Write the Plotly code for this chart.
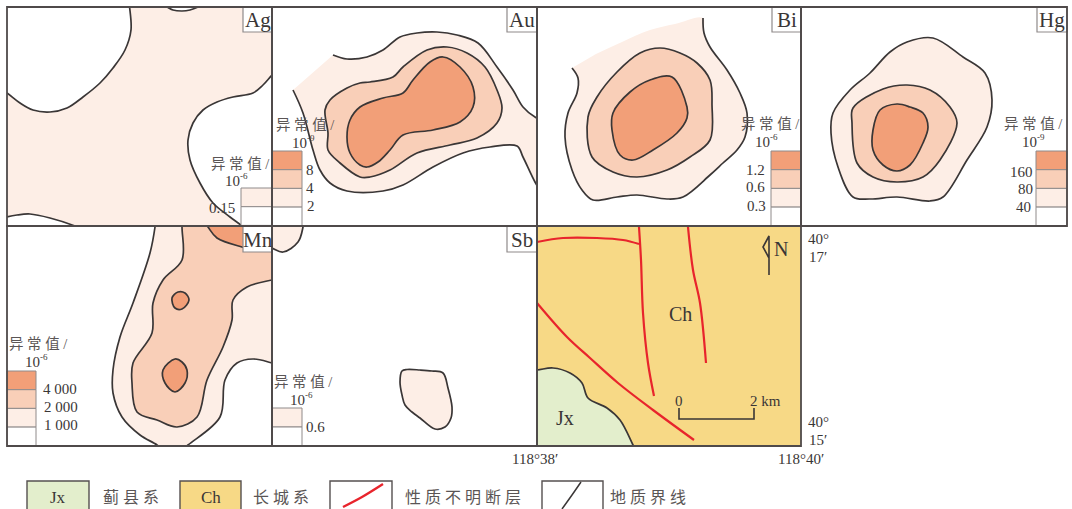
import plotly.graph_objects as go

W, H = 1072, 509
DARK, MID, PALE = "#f29f78", "#f9cfb8", "#fdeee6"
YELLOW, GREEN = "#f7d986", "#e3eecc"
INK, FRAME, GREY, RED = "#3a3636", "#4f4a4a", "#8f8a8a", "#e8242c"

# Panel extents: left, right, top, bottom
P_AG = (7, 272, 7, 226)
P_AU = (272, 537, 7, 226)
P_BI = (537, 801, 7, 226)
P_HG = (801, 1067, 7, 226)
P_MN = (7, 272, 226, 446)
P_SB = (272, 537, 226, 446)
P_GEO = (537, 801, 226, 446)

# Ag
AG_BG = [(-20, -20), (300, -20), (300, 250), (-20, 250)]
AG_HOLE1 = [(7, 93), (20, 103), (33, 110), (50, 112), (67, 108), (83, 97), (100, 83), (113, 68), (125, 50), (131, 30), (129, 0), (129, -20), (-20, -20), (-20, 75), (7, 93)]
AG_HOLE2 = [(160, 4), (167, 7), (173, 10), (182, 11), (190, 10), (198, 7), (205, 3), (182, -10), (160, 4)]
AG_HOLE3 = [(285, 62), (272, 75), (263, 85), (253, 93), (233, 97), (217, 102), (203, 110), (193, 123), (188, 140), (190, 160), (200, 183), (213, 203), (230, 217), (242, 226), (255, 238), (320, 240), (320, 62), (285, 62)]
AG_HOLE4 = [(-20, 225), (7, 217), (17, 215), (30, 214), (50, 218), (75, 226), (95, 235), (-20, 240), (-20, 225)]

# Au
AU_TOP = [(333, 55), (347, 59), (367, 57), (383, 50), (400, 37), (417, 33), (437, 32), (457, 35), (478, 43), (497, 67), (513, 90), (523, 107), (535, 117), (545, 121)]
AU_BOTTOM = [(293, 90), (303, 113), (313, 150), (320, 170), (330, 183), (347, 191), (383, 191), (403, 185), (433, 167), (463, 153), (490, 147), (517, 146), (523, 157), (535, 182), (545, 198)]
AU_C2 = [(360, 83), (347, 88), (330, 100), (325, 110), (328, 133), (328, 150), (340, 163), (360, 177), (370, 177), (390, 170), (417, 153), (450, 145), (477, 138), (497, 123), (502, 108), (497, 90), (485, 67), (467, 53), (447, 47), (427, 50), (403, 67), (393, 77), (370, 82), (360, 83)]
AU_C3 = [(360, 107), (350, 120), (347, 137), (350, 153), (360, 165), (367, 167), (378, 162), (390, 150), (403, 135), (433, 130), (460, 122), (473, 107), (473, 87), (460, 67), (443, 57), (430, 62), (413, 80), (403, 93), (383, 98), (360, 107)]

# Bi
BI_LEFT = [(572, 68), (578, 78), (577, 93), (568, 113), (565, 137), (572, 170), (582, 190), (593, 200), (617, 197), (637, 195), (667, 199), (683, 197), (710, 175), (723, 163), (737, 150), (745, 137), (747, 113), (740, 93), (727, 70), (710, 47), (704, 33), (703, 18)]
BI_TOP_EDGE = [(675, 24), (650, 30), (622, 42), (596, 54)]
BI_C2 = [(660, 48), (640, 53), (617, 72), (597, 97), (588, 117), (592, 157), (613, 172), (637, 177), (667, 170), (690, 157), (710, 140), (712, 105), (710, 80), (697, 63), (680, 53), (660, 48)]
BI_C3 = [(672, 77), (687, 107), (687, 118), (677, 133), (653, 150), (633, 160), (620, 155), (612, 130), (613, 113), (630, 92), (650, 80), (672, 77)]

# Hg
HG_C1 = [(933, 38), (907, 42), (890, 52), (870, 73), (850, 90), (833, 113), (831, 133), (838, 167), (853, 197), (870, 199), (897, 197), (930, 201), (943, 197), (967, 160), (987, 127), (992, 100), (985, 73), (963, 57), (933, 38)]
HG_C2 = [(907, 85), (883, 89), (853, 108), (852, 123), (857, 163), (873, 177), (897, 182), (923, 177), (940, 160), (957, 123), (950, 107), (930, 90), (907, 85)]
HG_C3 = [(897, 104), (880, 110), (873, 130), (873, 150), (883, 165), (897, 171), (910, 165), (923, 143), (928, 127), (923, 113), (910, 107), (897, 104)]

# Mn
MN_C1 = [(157, 205), (155, 227), (150, 253), (133, 303), (120, 337), (113, 370), (113, 393), (122, 417), (140, 435), (157, 445), (165, 452), (180, 452), (188, 445), (220, 417), (225, 380), (237, 363), (253, 359), (272, 363), (300, 372), (300, 205), (157, 205)]
MN_C2 = [(182, 205), (182, 227), (182, 260), (163, 280), (153, 303), (152, 333), (133, 363), (132, 383), (137, 412), (157, 420), (177, 427), (197, 417), (207, 380), (223, 347), (232, 320), (233, 300), (247, 287), (272, 280), (300, 275), (300, 205), (182, 205)]
MN_C3 = [(200, 215), (208, 227), (217, 238), (242, 247), (250, 249), (250, 210), (200, 215)]
MN_B1 = [(178, 292), (172, 298), (175, 308), (182, 309), (189, 300), (185, 293), (178, 292)]
MN_B2 = [(175, 359), (163, 370), (165, 383), (175, 392), (185, 383), (187, 370), (182, 362), (175, 359)]

# Sb
SB_C1 = [(305, 205), (303, 227), (298, 242), (283, 252), (272, 248), (255, 240), (255, 205), (305, 205)]
SB_C2 = [(420, 370), (407, 369.5), (402, 371), (400, 382), (402, 395), (405, 405), (412, 412), (420, 418), (435, 429), (445, 427), (451, 418), (452, 407), (448, 388), (443, 373), (432, 371), (420, 370)]

# Geology
JX = [(515, 372), (537, 370), (553, 368), (570, 373), (582, 383), (588, 398), (607, 408), (620, 420), (633, 445), (640, 460), (515, 460), (515, 372)]
F1 = [(537, 242), (563, 238), (597, 238), (623, 240), (639, 244)]
F2 = [(639, 227), (641, 260), (643, 313), (648, 363), (654, 396)]
F3 = [(688, 227), (693, 270), (700, 303), (706, 363)]
F4 = [(537, 303), (567, 337), (590, 358), (618, 383), (653, 410), (694, 440)]
SCALE = [(679, 408), (679, 419), (754, 419), (754, 408)]
NORTH = [(769, 275), (769, 236), (763, 247), (769, 258)]
KEY_FAULT = [(343, 507), (362, 497), (383, 484)]
KEY_BOUND = [(562, 509), (572, 495), (581, 482)]

# Legend rows: left, right, top, row height, fills from top to bottom
LEGENDS = [
    (241, 272, 188, 18.7, [PALE, "#ffffff"]),
    (272, 302, 151, 18.7, [DARK, MID, PALE, "#ffffff"]),
    (771, 801, 151, 18.7, [DARK, MID, PALE, "#ffffff"]),
    (1036, 1067, 151, 18.7, [DARK, MID, PALE, "#ffffff"]),
    (7, 36, 371, 18.7, [DARK, MID, PALE, "#ffffff"]),
    (272, 302, 408, 19, [PALE, "#ffffff"]),
]
TAGS = [("Ag", 243, 272, 7, 32), ("Au", 507, 537, 7, 32), ("Bi", 772, 801, 7, 32),
        ("Hg", 1037, 1067, 7, 32), ("Mn", 243, 272, 226, 252), ("Sb", 507, 537, 226, 252)]
UNITS = [
    ("异 常 值 /", 240, 164, "-6", 235, 181),
    ("异 常 值 /", 305, 125, "-9", 302, 143),
    ("异 常 值 /", 770, 124, "-6", 765, 142),
    ("异 常 值 /", 1033, 124, "-9", 1032, 142),
    ("异 常 值 /", 38, 344, "-6", 35, 362),
    ("异 常 值 /", 303, 382, "-6", 300, 400),
]
VALUES = [("0.15", 222, 208), ("8", 310, 170), ("4", 310, 188), ("2", 311, 206),
          ("1.2", 755, 170), ("0.6", 755, 187), ("0.3", 756, 206),
          ("160", 1021, 172), ("80", 1025, 189), ("40", 1023, 207),
          ("4 000", 60, 389), ("2 000", 61, 407), ("1 000", 61, 425), ("0.6", 315, 427)]
COORDS = [("40°", 818, 239), ("17′", 818, 257), ("40°", 818, 422), ("15′", 818, 440),
          ("118°38′", 535, 459), ("118°40′", 801, 459)]
KEY_BOXES = [(27, 89, GREEN, "Jx"), (180, 241, YELLOW, "Ch"), (330, 392, "#ffffff", ""), (542, 603, "#ffffff", "")]
KEY_LABELS = [("蓟 县 系", 131), ("长 城 系", 281), ("性 质 不 明 断 层", 463), ("地 质 界 线", 648)]

PANELS = [P_AG, P_AU, P_BI, P_HG, P_MN, P_SB, P_GEO]
fig = go.Figure()
layout = {}
for i, (l, r, t, b) in enumerate(PANELS, 1):
    s = "" if i == 1 else str(i)
    layout["xaxis" + s] = dict(domain=[l / W, r / W], range=[l, r], visible=False, anchor="y" + s, fixedrange=True)
    layout["yaxis" + s] = dict(domain=[1 - b / H, 1 - t / H], range=[b, t], visible=False, anchor="x" + s, fixedrange=True)
layout["xaxis8"] = dict(domain=[0, 1], range=[0, W], visible=False, anchor="y8", fixedrange=True)
layout["yaxis8"] = dict(domain=[0, 1], range=[H, 0], visible=False, anchor="x8", fixedrange=True)


def add(pts, panel, fill=None, line=INK, width=1.7, smooth=True):
    s = "" if panel == 1 else str(panel)
    fig.add_trace(go.Scatter(
        x=[p[0] for p in pts], y=[p[1] for p in pts], xaxis="x" + s, yaxis="y" + s,
        mode="lines", hoverinfo="skip", showlegend=False,
        fill="toself" if fill else "none", fillcolor=fill,
        line=dict(color=line if line else "rgba(0,0,0,0)", width=width if line else 0,
                  shape="spline" if smooth else "linear", smoothing=1.0)))


# Ag
add(AG_BG, 1, PALE, None, smooth=False)
for hole in (AG_HOLE1, AG_HOLE2, AG_HOLE3, AG_HOLE4):
    add(hole, 1, "#ffffff")
# Au
add(AU_BOTTOM + AU_TOP[::-1], 2, PALE, None)
add(AU_TOP, 2)
add(AU_BOTTOM, 2)
add(AU_C2, 2, MID)
add(AU_C3, 2, DARK)
# Bi
add(BI_LEFT + BI_TOP_EDGE, 3, PALE, None)
add(BI_LEFT, 3)
add(BI_C2, 3, MID)
add(BI_C3, 3, DARK)
# Hg
add(HG_C1, 4, PALE)
add(HG_C2, 4, MID)
add(HG_C3, 4, DARK)
# Mn
add(MN_C1, 5, PALE)
add(MN_C2, 5, MID)
add(MN_C3, 5, DARK)
add(MN_B1, 5, DARK)
add(MN_B2, 5, DARK)
# Sb
add(SB_C1, 6, PALE)
add(SB_C2, 6, PALE)
# Geology
add([(515, 205), (820, 205), (820, 460), (515, 460)], 7, YELLOW, None, smooth=False)
add(JX, 7, GREEN)
for fault in (F1, F2, F3, F4):
    add(fault, 7, line=RED, width=2.2)
add(SCALE, 7, line=INK, width=1.6, smooth=False)
add(NORTH, 7, line=INK, width=1.6, smooth=False)
# Key samples
add(KEY_FAULT, 8, line=RED, width=2.4)
add(KEY_BOUND, 8, line=INK, width=1.5)

shapes, notes = [], []


def rect(l, r, t, b, fill="rgba(0,0,0,0)", color=GREY, width=1.0, layer="above"):
    shapes.append(dict(type="rect", xref="x8", yref="y8", x0=l, x1=r, y0=t, y1=b,
                       fillcolor=fill, line=dict(color=color, width=width), layer=layer))


def text(s, x, y, size=14, color=INK):
    notes.append(dict(text=s, x=x, y=y, xref="x8", yref="y8", showarrow=False,
                      xanchor="center", yanchor="middle",
                      font=dict(family="Liberation Serif, Noto Sans CJK SC", size=size, color=color)))


for l, r, top, step, fills in LEGENDS:
    for k, f in enumerate(fills):
        rect(l, r, top + k * step, top + (k + 1) * step, f)
for name, l, r, t, b in TAGS:
    rect(l, r, t, b, "#ffffff", GREY, 1.2)
    text(name, (l + r) / 2, (t + b) / 2 + 0.5, 21)
for l, r, t, b in PANELS:
    rect(l, r, t, b, color=FRAME, width=1.8)
for lab, x, y, exp, ex, ey in UNITS:
    text(lab, x, y, 14.5, "#5a5555")
    text("10", ex - 3, ey, 15)
    text(exp, ex + 9, ey - 5, 9)
for s, x, y in VALUES:
    text(s, x, y, 15)
for s, x, y in COORDS:
    text(s, x, y, 15)
text("Ch", 680, 314, 20)
text("Jx", 565, 418, 20)
text("N", 781, 249, 20)
text("0", 679, 401, 15)
text("2 km", 765, 401, 15)
for l, r, fill, s in KEY_BOXES:
    rect(l, r, 481, 514, fill, "#555050", 1.4, "below")
    if s:
        text(s, (l + r) / 2, 497, 17)
for s, x in KEY_LABELS:
    text(s, x, 497, 16, "#5a5555")

fig.update_layout(width=W, height=H, margin=dict(l=0, r=0, t=0, b=0), autosize=False,
                  paper_bgcolor="#ffffff", plot_bgcolor="rgba(0,0,0,0)", showlegend=False,
                  shapes=shapes, annotations=notes, **layout)
fig.write_html("out.html", config={"displayModeBar": False},
               post_script="document.body.style.margin='0';document.body.style.overflow='hidden';")
